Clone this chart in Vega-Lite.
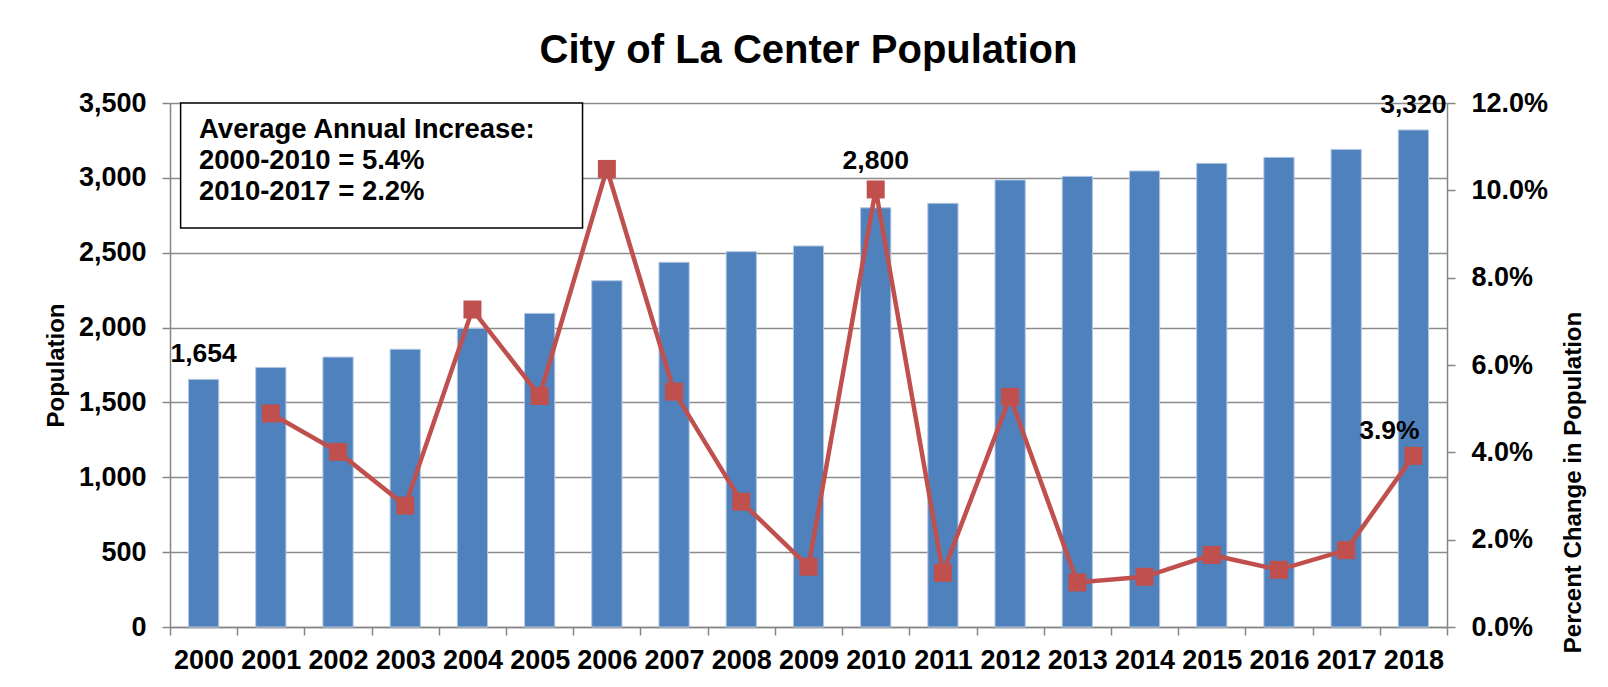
{
  "$schema": "https://vega.github.io/schema/vega-lite/v6.json",
  "width": 1277,
  "height": 524,
  "autosize": {"type": "none"},
  "padding": {"left": 170, "top": 103, "right": 161, "bottom": 60},
  "background": "white",
  "title": {"text": "City of La Center Population", "fontSize": 40, "font": "Liberation Sans", "fontWeight": "bold", "color": "black", "anchor": "middle", "offset": 18},
  "datasets": {
    "pop": [
      {"year": "2000", "pop": 1654, "pct": null},
      {"year": "2001", "pop": 1734, "pct": 0.0489},
      {"year": "2002", "pop": 1803, "pct": 0.0401},
      {"year": "2003", "pop": 1855, "pct": 0.0278},
      {"year": "2004", "pop": 1995, "pct": 0.0727},
      {"year": "2005", "pop": 2095, "pct": 0.0529},
      {"year": "2006", "pop": 2313, "pct": 0.1049},
      {"year": "2007", "pop": 2436, "pct": 0.0539},
      {"year": "2008", "pop": 2507, "pct": 0.0287},
      {"year": "2009", "pop": 2545, "pct": 0.0138},
      {"year": "2010", "pop": 2800, "pct": 0.1002},
      {"year": "2011", "pop": 2830, "pct": 0.0124},
      {"year": "2012", "pop": 2986, "pct": 0.0527},
      {"year": "2013", "pop": 3010, "pct": 0.0102},
      {"year": "2014", "pop": 3046, "pct": 0.0115},
      {"year": "2015", "pop": 3097, "pct": 0.0165},
      {"year": "2016", "pop": 3137, "pct": 0.0131},
      {"year": "2017", "pop": 3190, "pct": 0.0176},
      {"year": "2018", "pop": 3320, "pct": 0.0392}
    ]
  },
  "data": {"name": "pop"},
  "layer": [
    {
      "layer": [
        {
          "mark": {"type": "bar", "color": "#4F81BD", "stroke": "#B4C8E4", "strokeWidth": 1, "width": {"band": 0.45}},
          "encoding": {
            "x": {"field": "year", "type": "ordinal", "scale": {"paddingInner": 0, "paddingOuter": 0},
                  "axis": {"title": null, "labelAngle": 0, "tickBand": "extent", "labelPadding": 12, "grid": false}},
            "y": {"field": "pop", "type": "quantitative", "scale": {"domain": [0, 3500]},
                  "axis": {"title": "Population", "values": [0, 500, 1000, 1500, 2000, 2500, 3000, 3500], "format": ",d", "grid": true, "labelPadding": 16, "titleAngle": 270, "titleX": -114, "titleY": 262, "titleAlign": "center", "titleBaseline": "middle"}}
          }
        },
        {
          "data": {"values": [{}]},
          "mark": {"type": "rect", "fill": "white", "stroke": "black", "strokeWidth": 1.5},
          "encoding": {
            "x": {"datum": "2000", "type": "ordinal", "bandPosition": 0.158},
            "x2": {"datum": "2006", "bandPosition": 0.138},
            "y": {"datum": 3500, "type": "quantitative"},
            "y2": {"datum": 2665}
          }
        },
        {
          "data": {"values": [{}]},
          "mark": {"type": "text", "align": "left", "baseline": "alphabetic", "lineHeight": 31, "fontSize": 27.5,
                   "text": ["Average Annual Increase:", "2000-2010 = 5.4%", "2010-2017 = 2.2%"]},
          "encoding": {
            "x": {"datum": "2000", "type": "ordinal", "bandPosition": 0.432},
            "y": {"datum": 3264, "type": "quantitative"}
          }
        },
        {
          "transform": [{"filter": "datum.year == '2000' || datum.year == '2018'"}],
          "mark": {"type": "text", "baseline": "alphabetic", "dy": -17},
          "encoding": {
            "x": {"field": "year", "type": "ordinal"},
            "y": {"field": "pop", "type": "quantitative"},
            "text": {"field": "pop", "type": "quantitative", "format": ",d"}
          }
        },
        {
          "transform": [{"filter": "datum.year == '2010'"}],
          "mark": {"type": "text", "baseline": "alphabetic", "dy": -39},
          "encoding": {
            "x": {"field": "year", "type": "ordinal"},
            "y": {"field": "pop", "type": "quantitative"},
            "text": {"field": "pop", "type": "quantitative", "format": ",d"}
          }
        }
      ]
    },
    {
      "layer": [
        {
          "mark": {"type": "line", "color": "#C0504D", "strokeWidth": 4.5,
                   "point": {"shape": "square", "size": 324, "filled": true, "fill": "#C0504D", "opacity": 1}},
          "encoding": {
            "x": {"field": "year", "type": "ordinal"},
            "y": {"field": "pct", "type": "quantitative", "scale": {"domain": [0, 0.12]},
                  "axis": {"orient": "right", "title": "Percent Change in Population", "values": [0, 0.02, 0.04, 0.06, 0.08, 0.1, 0.12], "format": ".1%", "grid": false, "labelPadding": 16, "titleAngle": 270, "titleX": 126, "titleY": 379, "titleAlign": "center", "titleBaseline": "middle"}}
          }
        },
        {
          "transform": [{"filter": "datum.year == '2018'"}],
          "mark": {"type": "text", "baseline": "alphabetic", "dx": -24, "dy": -17},
          "encoding": {
            "x": {"field": "year", "type": "ordinal"},
            "y": {"field": "pct", "type": "quantitative"},
            "text": {"field": "pct", "type": "quantitative", "format": ".1%"}
          }
        }
      ]
    }
  ],
  "resolve": {"scale": {"y": "independent"}, "axis": {"y": "independent"}},
  "config": {
    "view": {"stroke": null},
    "axis": {
      "labelFont": "Liberation Sans", "labelFontWeight": "bold", "labelFontSize": 27, "labelColor": "black",
      "titleFont": "Liberation Sans", "titleFontWeight": "bold", "titleFontSize": 24, "titleColor": "black",
      "domainColor": "#868686", "domainWidth": 1.5, "tickColor": "#868686", "tickWidth": 1.5, "tickSize": 8,
      "gridColor": "#8C8C8C", "gridWidth": 1.5
    },
    "text": {"font": "Liberation Sans", "fontWeight": "bold", "fontSize": 26.5, "color": "black"}
  }
}
